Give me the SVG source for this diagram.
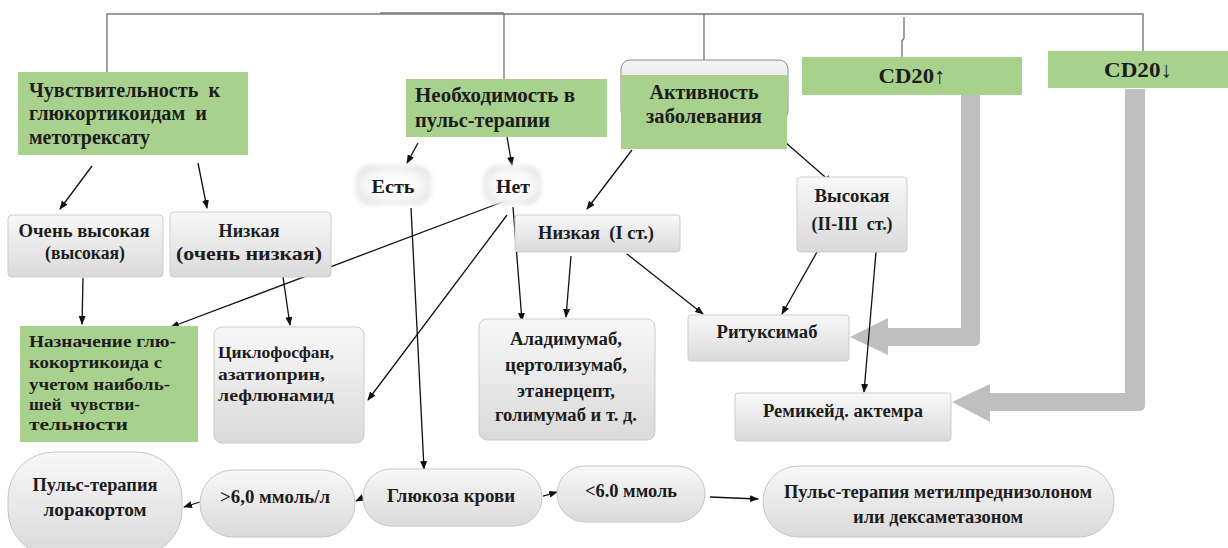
<svg xmlns="http://www.w3.org/2000/svg" width="1228" height="548" viewBox="0 0 1228 548">
<defs>
<linearGradient id="gbox" x1="0" y1="0" x2="0" y2="1">
<stop offset="0" stop-color="#f8f8f8"/><stop offset="1" stop-color="#dadada"/>
</linearGradient>
<linearGradient id="gcap" x1="0" y1="0" x2="0" y2="1">
<stop offset="0" stop-color="#f4f4f4"/><stop offset="1" stop-color="#d8d8d8"/>
</linearGradient>
<radialGradient id="gsoft" cx="0.5" cy="0.5" r="0.6">
<stop offset="0" stop-color="#ffffff"/><stop offset="0.55" stop-color="#f9f9f9"/><stop offset="1" stop-color="#e2e2e2"/>
</radialGradient>
<filter id="blur" x="-20%" y="-20%" width="140%" height="140%"><feGaussianBlur stdDeviation="2"/></filter>
<marker id="ah" markerUnits="userSpaceOnUse" markerWidth="9" markerHeight="7" refX="8" refY="3.5" orient="auto">
<path d="M0,0 L9,3.5 L0,7 z" fill="#111"/>
</marker>
</defs>
<style>
.t{font-family:"Liberation Serif","Times New Roman",serif;font-weight:bold;fill:#1c1c1c}
.h{font-size:20px}
.m{font-size:18px}
.s{font-size:17px}
.x{font-size:22px}
.c{text-anchor:middle}
.green{fill:#a9d18e}
.box{fill:url(#gbox);stroke:#cdcdcd;stroke-width:1}
.pill{fill:url(#gbox);stroke:#c6c6c6;stroke-width:1}
.soft{fill:url(#gsoft);filter:url(#blur)}
.ln{stroke:#111;stroke-width:1.3;fill:none;marker-end:url(#ah)}
.tree{stroke:#7a7a7a;stroke-width:1.4;fill:none}
.big{fill:#bfbfbf}
</style>

<g id="connectors">
<path class="tree" d="M107,72 V14 H1143 V53"/>
<path class="tree" d="M380,13 H504" stroke-width="2"/>
<path class="tree" d="M504,14 V79"/>
<path class="tree" d="M704,14 V75"/>
<path class="tree" d="M904,17 V38 L902,41 V57"/>
<path class="big" d="M961,95 H980 V340 Q980,346 974,346 H888 V355 L850,337 L888,318 V328 H961 Z"/>
<path class="big" d="M1125,89 H1145 V405 Q1145,411 1139,411 H990 V422 L952,402 L990,384 V393 H1125 Z"/>
<line class="ln" x1="92" y1="166" x2="60" y2="209"/>
<line class="ln" x1="198" y1="163" x2="207" y2="208"/>
<line class="ln" x1="83" y1="278" x2="82" y2="324"/>
<line class="ln" x1="283" y1="277" x2="290" y2="325"/>
<line class="ln" x1="418" y1="143" x2="407" y2="163"/>
<line class="ln" x1="507" y1="137" x2="512" y2="165"/>
<line class="ln" x1="505" y1="201" x2="171" y2="327"/>
<line class="ln" x1="507" y1="215" x2="368" y2="400"/>
<line class="ln" x1="513" y1="207" x2="522" y2="321"/>
<line class="ln" x1="632" y1="150" x2="587" y2="209"/>
<line class="ln" x1="785" y1="142" x2="832" y2="183"/>
<line class="ln" x1="571" y1="256" x2="566" y2="317"/>
<line class="ln" x1="627" y1="254" x2="703" y2="314"/>
<line class="ln" x1="817" y1="252" x2="782" y2="314"/>
<line class="ln" x1="876" y1="252" x2="864" y2="392"/>
<line class="ln" x1="411" y1="208" x2="424" y2="469"/>
<line class="ln" x1="366" y1="496" x2="356" y2="501"/>
<line class="ln" x1="200" y1="502" x2="184" y2="507"/>
<line class="ln" x1="543" y1="496" x2="557" y2="492"/>
<line class="ln" x1="710" y1="497" x2="758" y2="499"/>
</g>

<g id="n-sens">
<rect class="green" x="18" y="72" width="230" height="83"/>
<text class="t h" x="29" y="97" textLength="191" lengthAdjust="spacingAndGlyphs" xml:space="preserve">Чувствительность  к</text>
<text class="t h" x="29" y="120" textLength="178" lengthAdjust="spacingAndGlyphs" xml:space="preserve">глюкортикоидам  и</text>
<text class="t h" x="29" y="144" textLength="121" lengthAdjust="spacingAndGlyphs">метотрексату</text>
</g>

<g id="n-pulse">
<rect class="green" x="406" y="79" width="201" height="58"/>
<text class="t h" x="415" y="102" textLength="160" lengthAdjust="spacingAndGlyphs">Необходимость в</text>
<text class="t h" x="415" y="127" textLength="135" lengthAdjust="spacingAndGlyphs">пульс-терапии</text>
</g>

<g id="n-activity">
<rect x="621" y="60" width="167" height="60" rx="9" fill="url(#gcap)" stroke="#8c8c8c" stroke-width="1"/>
<rect class="green" x="621" y="75" width="166" height="74"/>
<text class="t h c" x="704" y="99" textLength="109" lengthAdjust="spacingAndGlyphs">Активность</text>
<text class="t h c" x="704" y="123" textLength="116" lengthAdjust="spacingAndGlyphs">заболевания</text>
</g>

<g id="n-cd20up">
<rect class="green" x="802" y="57" width="220" height="38"/>
<text class="t x c" x="912" y="83" textLength="67" lengthAdjust="spacingAndGlyphs">CD20↑</text>
</g>

<g id="n-cd20down">
<rect class="green" x="1048" y="51" width="180" height="37"/>
<text class="t x c" x="1138" y="77" textLength="68" lengthAdjust="spacingAndGlyphs">CD20↓</text>
</g>

<g id="n-veryhigh">
<rect class="box" x="8" y="215" width="155" height="62" rx="4"/>
<text class="t m c" x="84" y="237" textLength="131" lengthAdjust="spacingAndGlyphs">Очень высокая</text>
<text class="t m c" x="85" y="259" textLength="80" lengthAdjust="spacingAndGlyphs">(высокая)</text>
</g>

<g id="n-low">
<rect class="box" x="170" y="212" width="161" height="65" rx="4"/>
<text class="t m c" x="249" y="237" textLength="61" lengthAdjust="spacingAndGlyphs">Низкая</text>
<text class="t m c" x="249" y="260" textLength="146" lengthAdjust="spacingAndGlyphs">(очень низкая)</text>
</g>

<g id="n-gluco">
<rect class="green" x="20" y="326" width="178" height="116"/>
<text class="t s" x="29" y="347" textLength="147" lengthAdjust="spacingAndGlyphs">Назначение глю-</text>
<text class="t s" x="29" y="368" textLength="133" lengthAdjust="spacingAndGlyphs">кокортикоида с</text>
<text class="t s" x="29" y="390" textLength="141" lengthAdjust="spacingAndGlyphs">учетом наиболь-</text>
<text class="t s" x="29" y="410" textLength="111" lengthAdjust="spacingAndGlyphs" xml:space="preserve">шей  чувстви-</text>
<text class="t s" x="29" y="430" textLength="99" lengthAdjust="spacingAndGlyphs">тельности</text>
</g>

<g id="n-cyclo">
<rect class="box" x="214" y="327" width="150" height="116" rx="8"/>
<text class="t s" x="218" y="358" textLength="116" lengthAdjust="spacingAndGlyphs">Циклофосфан,</text>
<text class="t s" x="218" y="380" textLength="107" lengthAdjust="spacingAndGlyphs">азатиоприн,</text>
<text class="t s" x="218" y="401" textLength="116" lengthAdjust="spacingAndGlyphs">лефлюнамид</text>
</g>

<g id="n-yes">
<rect class="soft" x="355" y="165" width="77" height="40" rx="16"/>
<text class="t m c" x="393" y="193" textLength="43" lengthAdjust="spacingAndGlyphs">Есть</text>
</g>

<g id="n-no">
<rect class="soft" x="483" y="165" width="59" height="40" rx="16"/>
<text class="t m c" x="513" y="193" textLength="34" lengthAdjust="spacingAndGlyphs">Нет</text>
</g>

<g id="n-lowI">
<rect class="box" x="515" y="215" width="165" height="37" rx="3"/>
<text class="t m c" x="596" y="239" textLength="116" lengthAdjust="spacingAndGlyphs" xml:space="preserve">Низкая  (I ст.)</text>
</g>

<g id="n-highII">
<rect class="box" x="797" y="177" width="110" height="75" rx="4"/>
<text class="t m c" x="852" y="202" textLength="75" lengthAdjust="spacingAndGlyphs">Высокая</text>
<text class="t m c" x="852" y="230" textLength="81" lengthAdjust="spacingAndGlyphs" xml:space="preserve">(II-III  ст.)</text>
</g>

<g id="n-biologics">
<rect class="box" x="479" y="319" width="176" height="121" rx="8"/>
<text class="t m c" x="566" y="345" textLength="112" lengthAdjust="spacingAndGlyphs">Аладимумаб,</text>
<text class="t m c" x="566" y="371" textLength="122" lengthAdjust="spacingAndGlyphs">цертолизумаб,</text>
<text class="t m c" x="566" y="397" textLength="98" lengthAdjust="spacingAndGlyphs">этанерцепт,</text>
<text class="t m c" x="566" y="421" textLength="142" lengthAdjust="spacingAndGlyphs">голимумаб и т. д.</text>
</g>

<g id="n-ritux">
<rect class="box" x="688" y="315" width="161" height="46" rx="3"/>
<text class="t m c" x="767" y="338" textLength="101" lengthAdjust="spacingAndGlyphs">Ритуксимаб</text>
</g>

<g id="n-remicade">
<rect class="box" x="735" y="393" width="216" height="48" rx="3"/>
<text class="t m c" x="843" y="417" textLength="160" lengthAdjust="spacingAndGlyphs">Ремикейд. актемра</text>
</g>

<g id="n-lorakort">
<rect class="pill" x="8" y="452" width="174" height="104" rx="46"/>
<text class="t m c" x="95" y="491" textLength="125" lengthAdjust="spacingAndGlyphs">Пульс-терапия</text>
<text class="t m c" x="95" y="516" textLength="103" lengthAdjust="spacingAndGlyphs">лоракортом</text>
</g>

<g id="n-gt6">
<rect class="pill" x="200" y="470" width="155" height="67" rx="33"/>
<text class="t m c" x="275" y="503" textLength="110" lengthAdjust="spacingAndGlyphs">&gt;6,0 ммоль/л</text>
</g>

<g id="n-glucose">
<rect class="pill" x="363" y="469" width="179" height="57" rx="28"/>
<text class="t m c" x="451" y="502" textLength="128" lengthAdjust="spacingAndGlyphs">Глюкоза крови</text>
</g>

<g id="n-lt6">
<rect class="pill" x="557" y="466" width="148" height="56" rx="28"/>
<text class="t m c" x="631" y="497" textLength="92" lengthAdjust="spacingAndGlyphs">&lt;6.0 ммоль</text>
</g>

<g id="n-methyl">
<rect class="pill" x="763" y="466" width="351" height="71" rx="35"/>
<text class="t m c" x="938" y="498" textLength="308" lengthAdjust="spacingAndGlyphs">Пульс-терапия метилпреднизолоном</text>
<text class="t m c" x="938" y="523" textLength="170" lengthAdjust="spacingAndGlyphs">или дексаметазоном</text>
</g>
</svg>
